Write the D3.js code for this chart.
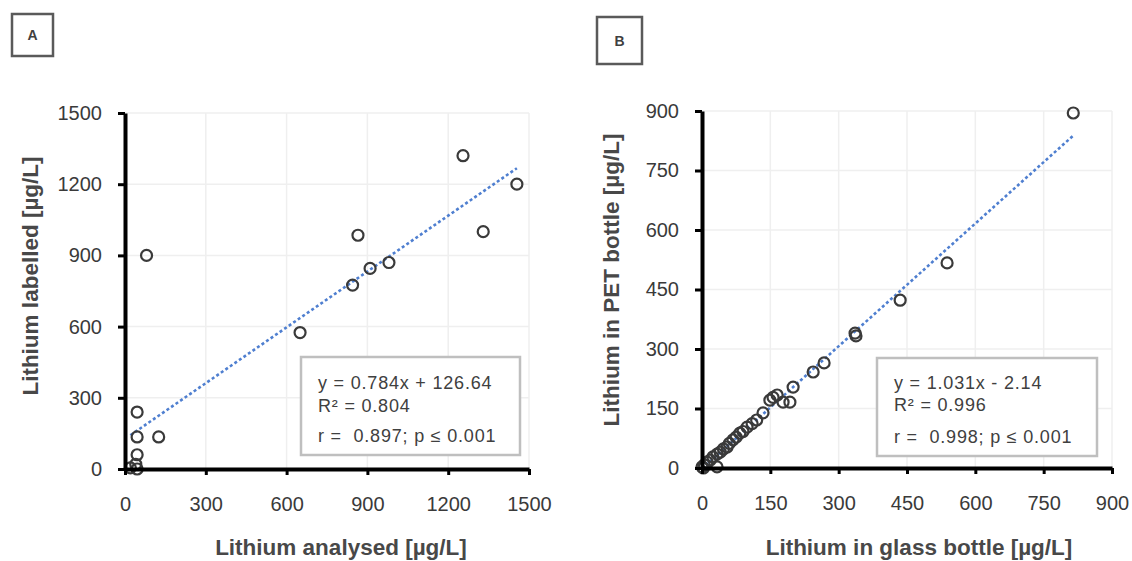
<!DOCTYPE html>
<html>
<head>
<meta charset="utf-8">
<script src="https://cdn.jsdelivr.net/npm/d3@7"></script>
<style>
  body { margin: 0; background: #fff; }
  text { font-family: "Liberation Sans", Arial, sans-serif; }
</style>
</head>
<body>
<div class="canvas"></div>
<script>
// chart data
const ticksA = [0, 300, 600, 900, 1200, 1500];
const analysedA = [45, 125, 45, 45, 40, 45, 20, 80, 650, 845, 865, 910, 980, 1255, 1330, 1455];
const labelledA = [240, 135, 135, 60, 20, 0, 5, 900, 575, 775, 985, 845, 870, 1320, 1000, 1200];
const fitA = [0.784, 126.64];
const statsA = ["y = 0.784x + 126.64", "R² = 0.804", "r =  0.897; p ≤ 0.001"];

const ticksB = [0, 150, 300, 450, 600, 750, 900];
const glassB = [0, 3, 33, 5, 11, 18, 24, 33, 40, 47, 55, 60, 68, 75, 83, 90, 99, 110, 120, 134, 149, 156, 165, 178, 193, 200, 244, 268, 336, 338, 435, 538, 815];
const petB = [3, 0, 3, 8, 15, 20, 28, 35, 40, 48, 53, 62, 71, 78, 88, 92, 103, 112, 121, 139, 171, 178, 184, 166, 166, 204, 242, 265, 340, 333, 423, 517, 895];
const fitB = [1.031, -2.14];
const statsB = ["y = 1.031x - 2.14", "R² = 0.996", "r =  0.998; p ≤ 0.001"];

// main svg
const w = 1132;
const h = 561;
const svg = d3.select(".canvas").append("svg").attr("width", w).attr("height", h);

function drawPanel(p) {
  const g = svg.append("g");
  const x = d3.scaleLinear().domain(p.domain).range(p.xRange);
  const y = d3.scaleLinear().domain(p.domain).range(p.yRange);

  // grid
  g.selectAll(".vgrid").data(p.ticks.slice(1)).enter().append("line")
    .attr("x1", d => x(d)).attr("x2", d => x(d))
    .attr("y1", p.yRange[0]).attr("y2", p.yRange[1])
    .attr("stroke", "#efefef").attr("stroke-width", 1.5);
  g.selectAll(".hgrid").data(p.ticks.slice(1)).enter().append("line")
    .attr("x1", p.xRange[0]).attr("x2", p.xRange[1])
    .attr("y1", d => y(d)).attr("y2", d => y(d))
    .attr("stroke", "#efefef").attr("stroke-width", 1.5);

  // stats box
  g.append("rect")
    .attr("x", p.box[0]).attr("y", p.box[1]).attr("width", p.box[2]).attr("height", p.box[3])
    .attr("fill", "#fff").attr("stroke", "#bfbfbf").attr("stroke-width", 2.5);
  g.selectAll(".stat").data(p.stats).enter().append("text")
    .attr("x", p.box[0] + 17)
    .attr("y", (d, i) => p.box[1] + p.lineY[i])
    .attr("font-size", 18).attr("letter-spacing", 0.8)
    .attr("fill", "#404040")
    .style("white-space", "pre")
    .text(d => d);

  // trendline
  const [m, b] = p.fit;
  const xs = d3.extent(p.xs);
  g.append("line")
    .attr("x1", x(xs[0])).attr("y1", y(m * xs[0] + b))
    .attr("x2", x(xs[1])).attr("y2", y(m * xs[1] + b))
    .attr("stroke", "#4f7fd0").attr("stroke-width", 2.6)
    .attr("stroke-dasharray", "3,2.5");

  // points
  g.selectAll("circle").data(p.xs).enter().append("circle")
    .attr("cx", d => x(d))
    .attr("cy", (d, i) => y(p.ys[i]))
    .attr("r", 5.5)
    .attr("fill", "none").attr("stroke", "#3a3a3a").attr("stroke-width", 2.2);

  // axes
  const xAxis = d3.axisBottom(x).tickValues(p.ticks).tickFormat(d3.format("d"))
    .tickSize(6).tickSizeOuter(0).tickPadding(22);
  const yAxis = d3.axisLeft(y).tickValues(p.ticks).tickFormat(d3.format("d"))
    .tickSize(7).tickSizeOuter(0).tickPadding(16);
  const gx = g.append("g").attr("transform", `translate(0, ${p.yRange[0]})`).call(xAxis);
  const gy = g.append("g").attr("transform", `translate(${p.xRange[0]}, 0)`).call(yAxis);
  [gx, gy].forEach(a => {
    a.select(".domain").attr("stroke", "#000").attr("stroke-width", 4);
    a.selectAll(".tick line").attr("stroke", "#000").attr("stroke-width", 3);
    a.selectAll(".tick text").attr("font-size", 20).attr("fill", "#3a3a3a")
      .attr("font-family", "Liberation Sans, Arial, sans-serif");
  });

  // axis titles
  g.append("text")
    .attr("x", p.xTitle[0]).attr("y", p.xTitle[1])
    .attr("text-anchor", "middle").attr("font-size", 22.5).attr("font-weight", "bold")
    .attr("fill", "#484848").text(p.xLabel);
  g.append("text")
    .attr("transform", `translate(${p.yTitle[0]}, ${p.yTitle[1]}) rotate(-90)`)
    .attr("text-anchor", "middle").attr("font-size", 22.5).attr("font-weight", "bold")
    .attr("fill", "#484848").text(p.yLabel);

  // panel letter
  g.append("rect")
    .attr("x", p.tag[0]).attr("y", p.tag[1]).attr("width", p.tag[2]).attr("height", p.tag[3])
    .attr("fill", "#fff").attr("stroke", "#5a5a5a").attr("stroke-width", 2.5);
  g.append("text")
    .attr("x", p.tag[0] + p.tag[2] / 2).attr("y", p.tag[1] + p.tag[3] / 2 + 5)
    .attr("text-anchor", "middle").attr("font-size", 14).attr("font-weight", "bold")
    .attr("fill", "#404040").text(p.letter);
}

drawPanel({
  letter: "A", tag: [12, 14, 41, 42],
  domain: [0, 1500], ticks: ticksA,
  xRange: [125, 529], yRange: [469, 113],
  xs: analysedA, ys: labelledA, fit: fitA, stats: statsA,
  box: [301, 357, 219, 98], lineY: [32, 55, 85],
  xLabel: "Lithium analysed [µg/L]", xTitle: [341, 555],
  yLabel: "Lithium labelled [µg/L]", yTitle: [38, 276]
});

drawPanel({
  letter: "B", tag: [597, 17, 45, 47],
  domain: [0, 900], ticks: ticksB,
  xRange: [702, 1112], yRange: [468, 111],
  xs: glassB, ys: petB, fit: fitB, stats: statsB,
  box: [877, 358, 220, 98], lineY: [31, 53, 85],
  xLabel: "Lithium in glass bottle [µg/L]", xTitle: [919, 555],
  yLabel: "Lithium in PET bottle [µg/L]", yTitle: [619, 280]
});
</script>
</body>
</html>
